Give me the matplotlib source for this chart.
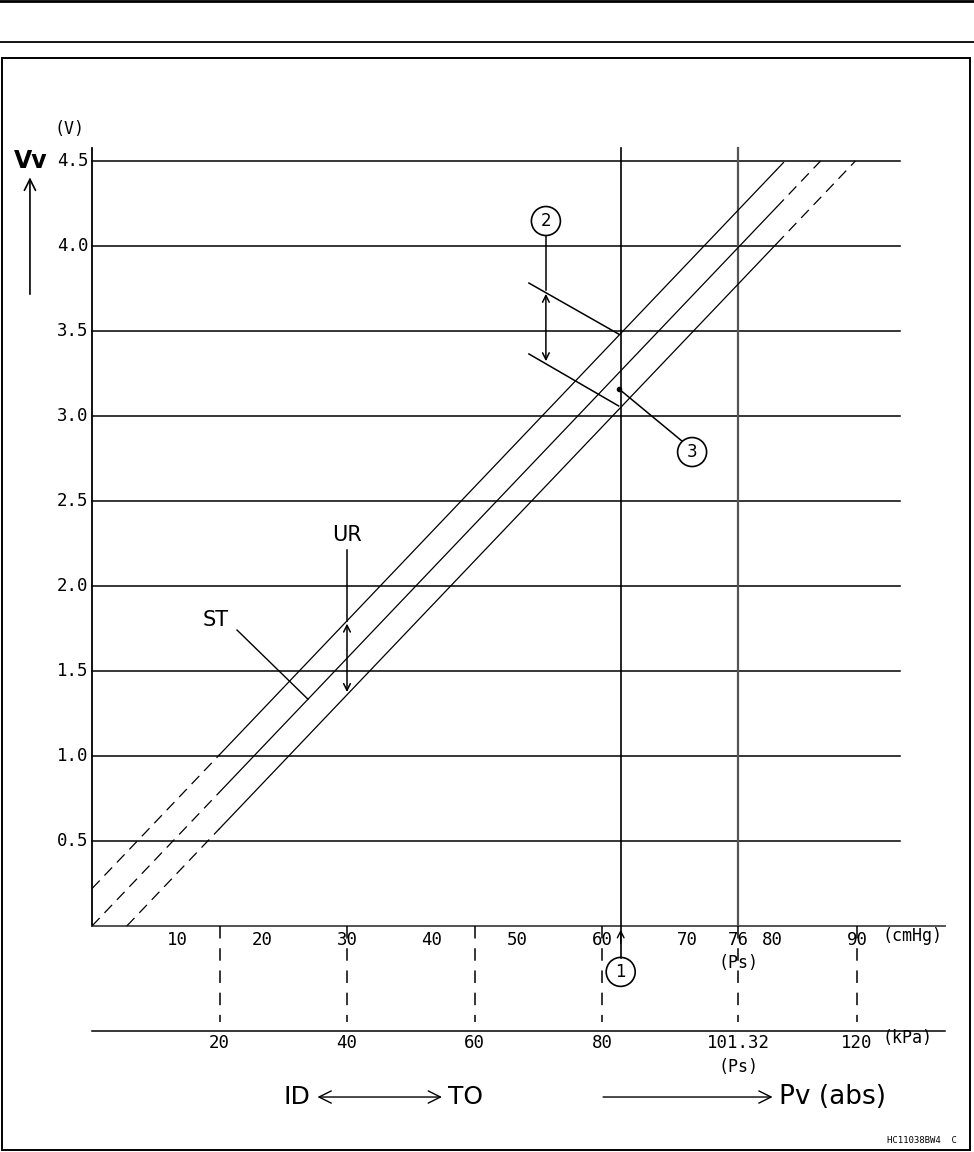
import matplotlib.pyplot as plt
from matplotlib.patches import Ellipse, Rectangle
from matplotlib.lines import Line2D

plt.rcParams['lines.scale_dashes'] = False

# sensor output voltage (V) against vacuum pressure (cmHg)
volt_ticks = [0.5, 1.0, 1.5, 2.0, 2.5, 3.0, 3.5, 4.0, 4.5]
volt_labels = ["0.5", "1.0", "1.5", "2.0", "2.5", "3.0", "3.5", "4.0", "4.5"]
cmhg_ticks = [10, 20, 30, 40, 50, 60, 70, 76, 80, 90]
kpa_ticks = [20, 40, 60, 80, 101.32, 120]
kpa_labels = ["20", "40", "60", "80", "101.32", "120"]

# three parallel characteristic lines: upper limit, standard (ST), lower limit
line_offsets = [0.22, 0.0, -0.215]   # V at 0 cmHg
slope = 0.0525                       # V per cmHg
solid_from, solid_to = 15, 80.5      # cmHg range drawn solid
v_max = 4.5
point_1 = 62.2                       # cmHg, marked (1)
ps_cmhg = 76                         # atmospheric (Ps)

mono = "DejaVu Sans Mono"
PXX, PXY = 8.5, 170.0                # pixels per cmHg / per V


def kpa_to_cmhg(k):
    return k * 76 / 101.32


def volt(c, off):
    return off + slope * c


fig = plt.figure(figsize=(9.74, 11.52), dpi=100)
ax = fig.add_axes([0, 0, 1, 1])
ax.set_xlim(-92 / PXX, 882 / PXX)
ax.set_ylim(-226 / PXY, 926 / PXY)
ax.axis('off')

# page frame
fig.add_artist(Line2D([0, 1], [1 - 1 / 1152] * 2, color='black', lw=2))
fig.add_artist(Line2D([0, 1], [1 - 41.5 / 1152] * 2, color='black', lw=1.3))
fig.add_artist(Rectangle((1.5 / 974, 1 - 1150 / 1152), 968.5 / 974, 1092 / 1152,
                         fill=False, edgecolor='black', lw=1.4))

top = 4.576
x_end = 100.35
grid_end = 95.06

# horizontal grid + y labels
for v, lab in zip(volt_ticks, volt_labels):
    ax.plot([0, grid_end], [v, v], color='black', lw=1.1)
    ax.text(-0.45, v, lab, ha='right', va='center', fontsize=12.5, family=mono)

ax.plot([0, 0], [0, top], color='black', lw=1.3)
ax.plot([0, x_end], [0, 0], color='#444444', lw=1.3)
ax.plot([ps_cmhg, ps_cmhg], [0, top], color='#555555', lw=1.6)
ax.plot([point_1, point_1], [-0.19, top], color='black', lw=1.2)
ax.annotate('', xy=(point_1, -0.005), xytext=(point_1, -0.12),
            arrowprops=dict(arrowstyle='->', color='black', lw=1.0, mutation_scale=12))

# kPa axis
y_kpa = -0.618
ax.plot([0, x_end], [y_kpa, y_kpa], color='black', lw=1.1)
for k, lab in zip(kpa_ticks, kpa_labels):
    c = kpa_to_cmhg(k)
    ax.plot([c, c], [0, -0.565], color='black', lw=1.1, dashes=(9, 7))
    ax.text(c, -0.688, lab, ha='center', va='center', fontsize=12.5, family=mono)
for c in cmhg_ticks:
    ax.text(c, -0.085, str(c), ha='center', va='center', fontsize=12.5, family=mono)
ax.text(96.5, -0.06, "(cmHg)", ha='center', va='center', fontsize=12, family=mono)
ax.text(96.0, -0.66, "(kPa)", ha='center', va='center', fontsize=12, family=mono)
ax.text(ps_cmhg, -0.215, "(Ps)", ha='center', va='center', fontsize=12, family=mono)
ax.text(ps_cmhg, -0.83, "(Ps)", ha='center', va='center', fontsize=12, family=mono)

# characteristic lines
for off in line_offsets:
    c0 = max(0.0, -off / slope)
    c1 = (v_max - off) / slope
    ax.plot([c0, solid_from], [volt(c0, off), volt(solid_from, off)],
            color='black', lw=0.9, dashes=(8, 5))
    ax.plot([solid_from, solid_to], [volt(solid_from, off), volt(solid_to, off)],
            color='black', lw=0.9)
    ax.plot([solid_to, c1], [volt(solid_to, off), v_max],
            color='black', lw=0.9, dashes=(8, 5))

# y axis title
ax.text(-2.6, 4.69, "(V)", ha='center', va='center', fontsize=12, family=mono)
ax.text(-7.2, 4.5, "Vv", ha='center', va='center', fontsize=17, fontweight='bold')
ax.annotate('', xy=(-7.3, 4.42), xytext=(-7.3, 3.7),
            arrowprops=dict(arrowstyle='->', color='black', lw=1.2, mutation_scale=20))


def circled(x, y, s):
    ax.add_patch(Ellipse((x, y), 29 / PXX, 29 / PXY, fill=False, edgecolor='black', lw=1.2))
    ax.text(x, y, s, ha='center', va='center', fontsize=12)


# (1)
circled(point_1, -0.27, "1")

# (2) tolerance band at point_1
circled(53.4, 4.147, "2")
ax.plot([51.4, 61.96], [3.782, 3.482], color='black', lw=1.1)
ax.plot([51.4, 61.96], [3.365, 3.059], color='black', lw=1.1)
ax.plot([53.4, 53.4], [4.06, 3.74], color='black', lw=1.1)
ax.annotate('', xy=(53.4, 3.735), xytext=(53.4, 3.306),
            arrowprops=dict(arrowstyle='<->', color='black', lw=1.1, mutation_scale=12))

# (3)
circled(70.6, 2.788, "3")
ax.plot([62.0], [3.159], 'o', color='black', ms=3)
ax.plot([62.0, 69.4], [3.159, 2.853], color='black', lw=1.1)

# UR and ST
c_ur = 30
ax.text(c_ur, 2.3, "UR", ha='center', va='center', fontsize=15)
ax.plot([c_ur, c_ur], [2.21, volt(c_ur, line_offsets[0])], color='black', lw=1.1)
ax.annotate('', xy=(c_ur, volt(c_ur, line_offsets[0])), xytext=(c_ur, volt(c_ur, line_offsets[2])),
            arrowprops=dict(arrowstyle='<->', color='black', lw=1.1, mutation_scale=12))
ax.text(14.5, 1.8, "ST", ha='center', va='center', fontsize=15)
ax.plot([17.06, 25.41], [1.741, volt(25.41, line_offsets[1])], color='black', lw=1.0)

# bottom legend
yb = -1.006
ax.text(24.1, yb, "ID", ha='center', va='center', fontsize=18)
ax.annotate('', xy=(26.2, yb), xytext=(41.5, yb),
            arrowprops=dict(arrowstyle='<->', color='black', lw=1.0, mutation_scale=22))
ax.text(43.9, yb, "TO", ha='center', va='center', fontsize=18)
ax.annotate('', xy=(80.4, yb), xytext=(59.8, yb),
            arrowprops=dict(arrowstyle='->', color='black', lw=1.0, mutation_scale=22))
ax.text(80.8, yb, "Pv (abs)", ha='left', va='center', fontsize=19)

ax.text(0.982, 0.01, "HC11038BW4  C", transform=fig.transFigure,
        ha='right', va='center', fontsize=6.5, family=mono)

fig.savefig("out.png", dpi=100)
